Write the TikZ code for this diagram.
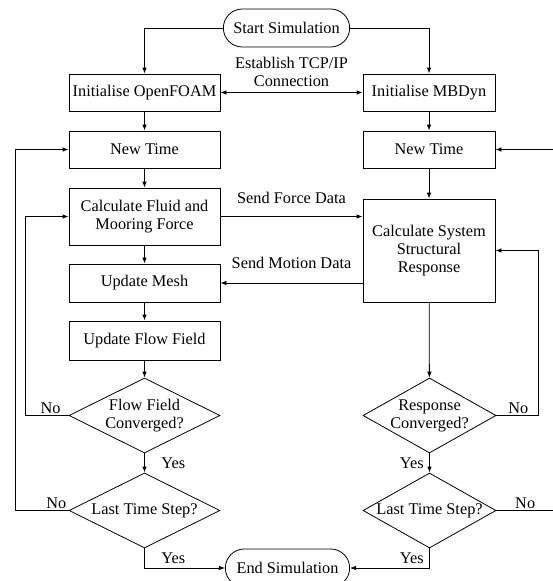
\documentclass[tikz,border=0pt]{standalone}
\usepackage{fontspec}
\setmainfont{Liberation Serif}
\usetikzlibrary{positioning, arrows.meta, shapes.geometric, shapes.misc}

\begin{document}
\begin{tikzpicture}[x=1pt, y=-1pt,
    font=\fontsize{16.3}{18}\selectfont,
    >={Latex[length=6pt,width=4.5pt]},
    proc/.style={draw, line width=0.8pt, align=center, inner sep=2pt},
    term/.style={draw, rounded rectangle, line width=0.8pt, minimum width=133pt, minimum height=38pt},
    decision/.style={draw, diamond, line width=0.8pt, inner sep=0pt, minimum height=75pt},
    conn/.style={->, line width=0.8pt},
    tag/.style={inner sep=1.5pt}]
  \useasboundingbox (0,0) rectangle (553,581);

  % Start and end
  \node[term] (start) at (286.5,28) {Start Simulation};
  \node[term, minimum width=131pt] (end) at (287.5,568) {End Simulation};

  % OpenFOAM column
  \node[proc, minimum width=151pt, minimum height=37pt] (initF) at (144.5,92.5) {Initialise OpenFOAM};
  \node[proc, minimum width=151pt, minimum height=37pt] (ntF) at (144.5,149.5) {New Time};
  \node[proc, minimum width=151pt, minimum height=57pt] (calcF) at (144.5,216.5) {Calculate Fluid and\\Mooring Force};
  \node[proc, minimum width=151pt, minimum height=38pt] (mesh) at (144.5,283) {Update Mesh};
  \node[proc, minimum width=151pt, minimum height=39pt] (flow) at (144.5,340.5) {Update Flow Field};
  \node[decision, minimum width=151pt,
        label={[align=center]center:{Flow Field\\Converged?}}] (convF) at (144.5,415.5) {};
  \node[decision, minimum width=151pt,
        label={center:Last Time Step?}] (lastF) at (144.5,510.5) {};

  % MBDyn column
  \node[proc, minimum width=132pt, minimum height=37pt] (initM) at (429,92.5) {Initialise MBDyn};
  \node[proc, minimum width=132pt, minimum height=37pt] (ntM) at (429,149.5) {New Time};
  \node[proc, minimum width=132pt, minimum height=103pt] (calcM) at (429,250.5) {Calculate System\\Structural\\Response};
  \node[decision, minimum width=133pt,
        label={[align=center]center:{Response\\Converged?}}] (convM) at (429.5,415.5) {};
  \node[decision, minimum width=133pt,
        label={center:Last Time Step?}] (lastM) at (429.5,510.5) {};

  % start-up
  \draw[conn] (start.west) -| (initF.north);
  \draw[conn] (start.east) -| (initM.north);
  \draw[<->, line width=0.8pt] (initF) -- (initM)
    node[midway, above=3.5pt, tag, align=center] {Establish TCP/IP\\Connection};

  % OpenFOAM steps
  \draw[conn] (initF) -- (ntF);
  \draw[conn] (ntF) -- (calcF);
  \draw[conn] (calcF) -- (mesh);
  \draw[conn] (mesh) -- (flow);
  \draw[conn] (flow) -- (convF);
  \draw[conn] (convF) -- (lastF) node[midway, right=15pt, tag] {Yes};

  % MBDyn steps
  \draw[conn] (initM) -- (ntM);
  \draw[conn] (ntM) -- (calcM);
  \draw[conn] (calcM) -- (convM);
  \draw[conn] (convM) -- (lastM) node[midway, left=4pt, tag] {Yes};

  % data exchange
  \draw[conn] (calcF.east) -- (calcF.east -| calcM.west)
    node[midway, above=11pt, tag] {Send Force Data};
  \draw[conn] (calcM.west |- mesh.east) -- (mesh.east)
    node[midway, above=12pt, tag] {Send Motion Data};

  % loops
  \draw[conn] (convF.west) -- ++(-43,0) node[pos=0.42, above, tag] {No} |- (calcF.west);
  \draw[conn] (lastF.west) -- ++(-53,0) node[pos=0.23, above, tag] {No} |- (ntF.west);
  \draw[conn] (convM.east) -- ++(42,0) node[pos=0.52, above, tag] {No} |- (calcM.east);
  \draw[conn] (lastM.east) -- ++(64,0) node[pos=0.45, above, tag] {No} |- (ntM.east);

  % finish
  \draw[conn] (lastF.south) |- (end.west) node[pos=0.25, right=15pt, tag] {Yes};
  \draw[conn] (lastM.south) |- (end.east) node[pos=0.25, left=4pt, tag] {Yes};
\end{tikzpicture}
\end{document}
